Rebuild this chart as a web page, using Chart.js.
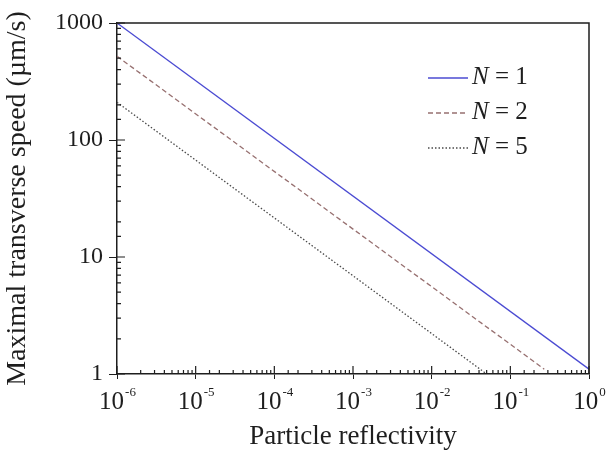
<!DOCTYPE html>
<html lang="en">
<head>
    <meta charset="UTF-8">
    <title>Maximal transverse speed vs particle reflectivity</title>
    <script src="https://cdn.jsdelivr.net/npm/chart.js@4.4.0/dist/chart.umd.min.js"></script>
    <style>
        html, body { margin: 0; padding: 0; background: #fff; }
        #wrap { width: 608px; height: 454px; }
    </style>
</head>
<body>
    <div id="wrap"><canvas id="speed"></canvas></div>
    <script>
        // Values (log-log straight lines, end points)
        const reflectivityN1 = [1e-6, 1];
        const speedN1 = [1000, 1.1];
        const reflectivityN2 = [1e-6, 0.27];
        const speedN2 = [520, 1.1];
        const reflectivityN5 = [1e-6, 0.05];
        const speedN5 = [210, 1];

        const seriesNames = ['N = 1', 'N = 2', 'N = 5'];
        const xTickPowers = [-6, -5, -4, -3, -2, -1, 0];
        const yTickLabels = ['1', '10', '100', '1000'];

        const serif = '"Liberation Serif", "DejaVu Serif", serif';
        const ink = '#1e1e1e';

        function toPoints(xs, ys) {
            return xs.map((x, i) => ({ x: x, y: ys[i] }));
        }

        function isMajor(v) {
            const l = Math.log10(v);
            return Math.abs(l - Math.round(l)) < 1e-6;
        }

        // tick marks inside the box, frame, x labels with exponents, legend
        const decorations = {
            id: 'decorations',
            afterDraw(chart) {
                const { ctx, chartArea } = chart;
                const xs = chart.scales.x, ys = chart.scales.y;
                ctx.save();
                ctx.strokeStyle = ink;
                ctx.lineWidth = 1.2;

                // inward ticks
                ctx.beginPath();
                xs.ticks.forEach(t => {
                    const px = xs.getPixelForValue(t.value);
                    const len = isMajor(t.value) ? 8 : 4;
                    ctx.moveTo(px, chartArea.bottom);
                    ctx.lineTo(px, chartArea.bottom - len);
                });
                ys.ticks.forEach(t => {
                    const py = ys.getPixelForValue(t.value);
                    const len = isMajor(t.value) ? 8 : 4;
                    ctx.moveTo(chartArea.left, py);
                    ctx.lineTo(chartArea.left + len, py);
                });
                ctx.stroke();

                // top and right frame
                ctx.lineWidth = 1.5;
                ctx.beginPath();
                ctx.moveTo(chartArea.left, chartArea.top);
                ctx.lineTo(chartArea.right, chartArea.top);
                ctx.lineTo(chartArea.right, chartArea.bottom);
                ctx.stroke();

                // x tick labels 10^n
                ctx.fillStyle = ink;
                ctx.textBaseline = 'alphabetic';
                ctx.textAlign = 'left';
                xTickPowers.forEach(p => {
                    const px = xs.getPixelForValue(Math.pow(10, p));
                    const exp = p === 0 ? '0' : '-' + Math.abs(p);
                    ctx.font = '25px ' + serif;
                    const w1 = ctx.measureText('10').width;
                    ctx.font = '13px ' + serif;
                    const w2 = ctx.measureText(exp).width;
                    const x0 = px - (w1 + w2) / 2;
                    ctx.font = '25px ' + serif;
                    ctx.fillText('10', x0, chartArea.bottom + 35);
                    ctx.font = '13px ' + serif;
                    ctx.fillText(exp, x0 + w1 + 1, chartArea.bottom + 22);
                });

                // legend
                const lx = chartArea.right - 161;
                const ly = chartArea.top + 55;
                chart.data.datasets.forEach((ds, i) => {
                    const y = ly + i * 35;
                    ctx.strokeStyle = ds.borderColor;
                    ctx.lineWidth = ds.borderWidth;
                    ctx.setLineDash(ds.borderDash || []);
                    ctx.beginPath();
                    ctx.moveTo(lx, y);
                    ctx.lineTo(lx + 40, y);
                    ctx.stroke();
                    ctx.setLineDash([]);
                    const sym = ds.label.charAt(0);
                    const rest = ds.label.slice(1);
                    ctx.fillStyle = ink;
                    ctx.font = 'italic 25px ' + serif;
                    ctx.fillText(sym, lx + 44, y + 6);
                    const ws = ctx.measureText(sym).width;
                    ctx.font = '25px ' + serif;
                    ctx.fillText(rest, lx + 44 + ws, y + 6);
                });
                ctx.restore();
            }
        };

        const chart = new Chart(document.getElementById('speed'), {
            type: 'line',
            data: {
                datasets: [
                    {
                        label: seriesNames[0],
                        data: toPoints(reflectivityN1, speedN1),
                        borderColor: '#4b4bd2',
                        borderWidth: 1.3,
                        pointRadius: 0,
                        fill: false
                    },
                    {
                        label: seriesNames[1],
                        data: toPoints(reflectivityN2, speedN2),
                        borderColor: '#977070',
                        borderWidth: 1.3,
                        borderDash: [5, 3],
                        pointRadius: 0,
                        fill: false
                    },
                    {
                        label: seriesNames[2],
                        data: toPoints(reflectivityN5, speedN5),
                        borderColor: '#4a4a4a',
                        borderWidth: 1.3,
                        borderDash: [1.5, 2],
                        pointRadius: 0,
                        fill: false
                    }
                ]
            },
            options: {
                responsive: true,
                maintainAspectRatio: false,
                animation: false,
                layout: { padding: { left: 0, right: 19, top: 23, bottom: 0 } },
                plugins: {
                    legend: { display: false },
                    tooltip: { enabled: false }
                },
                scales: {
                    x: {
                        type: 'logarithmic',
                        min: 1e-6,
                        max: 1,
                        afterFit: s => { s.height = 80; },
                        border: { display: true, color: ink, width: 1.5 },
                        grid: {
                            drawOnChartArea: false,
                            tickLength: 5,
                            tickColor: c => isMajor(c.tick.value) ? ink : 'rgba(0,0,0,0)'
                        },
                        ticks: {
                            autoSkip: false,
                            maxRotation: 0,
                            callback: () => ''
                        },
                        title: {
                            display: true,
                            text: 'Particle reflectivity',
                            color: ink,
                            font: { family: serif, size: 27 },
                            padding: { top: 0, bottom: 1 }
                        }
                    },
                    y: {
                        type: 'logarithmic',
                        min: 1,
                        max: 1000,
                        afterFit: s => { s.width = 117; },
                        border: { display: true, color: ink, width: 1.5 },
                        grid: {
                            drawOnChartArea: false,
                            tickLength: 8,
                            tickColor: c => isMajor(c.tick.value) ? ink : 'rgba(0,0,0,0)'
                        },
                        ticks: {
                            autoSkip: false,
                            padding: 6,
                            color: ink,
                            font: { family: serif, size: 24 },
                            callback: v => {
                                if (!isMajor(v)) return '';
                                const k = Math.round(Math.log10(v));
                                return yTickLabels[k];
                            }
                        },
                        title: {
                            display: true,
                            text: 'Maximal transverse speed (\u00b5m/s)',
                            color: ink,
                            font: { family: serif, size: 28 },
                            padding: { top: 1, bottom: 0 }
                        }
                    }
                }
            },
            plugins: [decorations]
        });
    </script>
</body>
</html>
